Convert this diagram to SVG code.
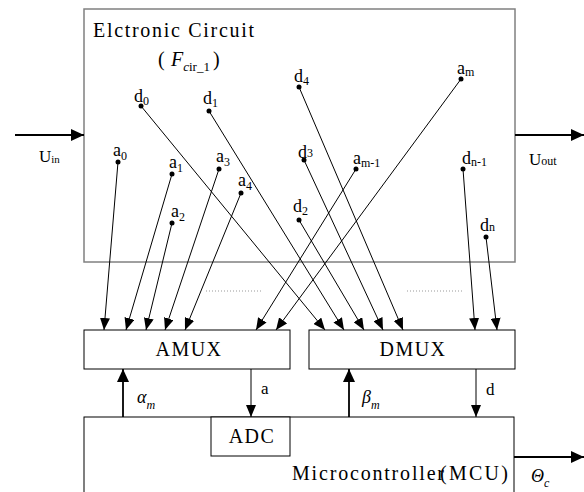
<svg xmlns="http://www.w3.org/2000/svg" width="584" height="492" viewBox="0 0 584 492">
<style>
text{font-family:"Liberation Serif","Times New Roman",serif;fill:#000}
.lbl{font-size:18px}
.sub{font-size:12px}
.big{font-size:20px}
.box{fill:#fff;stroke:#000;stroke-width:1}
.conn{stroke:#000;stroke-width:1;fill:none}
.thick{stroke:#000;stroke-width:1.8;fill:none}
.dot{fill:#000}
.dotted{stroke:#999;stroke-width:1;stroke-dasharray:1,2}
</style>
<defs>
<marker id="ah" viewBox="0 0 12 10" refX="12" refY="5" markerWidth="12" markerHeight="10" markerUnits="userSpaceOnUse" orient="auto"><path d="M0,0 L12,5 L0,10 z" fill="#000"/></marker>
<marker id="ahb" viewBox="0 0 13 12" refX="13" refY="6" markerWidth="13" markerHeight="12" markerUnits="userSpaceOnUse" orient="auto"><path d="M0,0 L13,6 L0,12 z" fill="#000"/></marker>
</defs>

<g id="circuit">
<rect x="84" y="9" width="431" height="253" fill="#fff" stroke="#808080" stroke-width="1.5"/>
<text x="93" y="37" class="big" textLength="161" lengthAdjust="spacing">Elctronic Circuit</text>
<text x="158" y="66" class="big">(<tspan x="171" font-style="italic">F</tspan><tspan font-size="13" y="71" font-style="italic">c</tspan><tspan font-size="13" y="71">ir_1</tspan><tspan x="213" y="66">)</tspan></text>
</g>

<g id="amux">
<rect x="84" y="330" width="206" height="39" class="box"/>
<text x="189" y="356" class="big" text-anchor="middle" letter-spacing="1.5">AMUX</text>
</g>
<g id="dmux">
<rect x="309" y="330" width="206" height="39" class="box"/>
<text x="413" y="356" class="big" text-anchor="middle" letter-spacing="1.5">DMUX</text>
</g>
<g id="mcu">
<rect x="84" y="417" width="430" height="90" class="box"/>
<text x="292" y="480" class="big" textLength="152" lengthAdjust="spacing">Microcontroller</text>
<text x="440" y="480" class="big" textLength="68" lengthAdjust="spacing">(MCU)</text>
</g>
<g id="adc">
<rect x="211" y="417" width="79" height="39" class="box"/>
<text x="252" y="443" class="big" text-anchor="middle" letter-spacing="1.5">ADC</text>
</g>

<g id="points">
<circle cx="118" cy="162" r="2.5" class="dot"/>
<text x="113" y="156" class="lbl">a<tspan class="sub" dy="4">0</tspan></text>
<circle cx="172" cy="174" r="2.5" class="dot"/>
<text x="169" y="168" class="lbl">a<tspan class="sub" dy="4">1</tspan></text>
<circle cx="172" cy="223" r="2.5" class="dot"/>
<text x="171" y="217" class="lbl">a<tspan class="sub" dy="4">2</tspan></text>
<circle cx="219" cy="169" r="2.5" class="dot"/>
<text x="216" y="162" class="lbl">a<tspan class="sub" dy="4">3</tspan></text>
<circle cx="241" cy="193" r="2.5" class="dot"/>
<text x="238" y="186" class="lbl">a<tspan class="sub" dy="4">4</tspan></text>
<circle cx="356" cy="169" r="2.5" class="dot"/>
<text x="353" y="164" class="lbl">a<tspan class="sub" dy="3">m-1</tspan></text>
<circle cx="461" cy="79" r="2.5" class="dot"/>
<text x="457" y="74" class="lbl">a<tspan class="sub" dy="2">m</tspan></text>

<circle cx="141" cy="106" r="2.5" class="dot"/>
<text x="134" y="102" class="lbl">d<tspan class="sub" dy="3">0</tspan></text>
<circle cx="209" cy="111" r="2.5" class="dot"/>
<text x="203" y="104" class="lbl">d<tspan class="sub" dy="3">1</tspan></text>
<circle cx="299" cy="220" r="2.5" class="dot"/>
<text x="293" y="212" class="lbl">d<tspan class="sub" dy="3">2</tspan></text>
<circle cx="304" cy="160" r="2.5" class="dot"/>
<text x="298" y="158" class="lbl">d<tspan class="sub" dy="-1">3</tspan></text>
<circle cx="299" cy="87" r="2.5" class="dot"/>
<text x="294" y="82" class="lbl">d<tspan class="sub" dy="3">4</tspan></text>
<circle cx="463" cy="169" r="2.5" class="dot"/>
<text x="462" y="164" class="lbl">d<tspan class="sub" dy="2">n-1</tspan></text>
<circle cx="486" cy="237" r="2.5" class="dot"/>
<text x="480" y="231" class="lbl">d<tspan class="sub" dy="0">n</tspan></text>
</g>

<g id="connectors">
<line x1="118" y1="162" x2="104" y2="330" class="conn" marker-end="url(#ah)"/>
<line x1="172" y1="174" x2="126" y2="330" class="conn" marker-end="url(#ah)"/>
<line x1="172" y1="223" x2="146" y2="330" class="conn" marker-end="url(#ah)"/>
<line x1="219" y1="169" x2="165" y2="330" class="conn" marker-end="url(#ah)"/>
<line x1="241" y1="193" x2="185" y2="330" class="conn" marker-end="url(#ah)"/>
<line x1="356" y1="169" x2="256" y2="330" class="conn" marker-end="url(#ah)"/>
<line x1="461" y1="79" x2="276" y2="330" class="conn" marker-end="url(#ah)"/>

<line x1="141" y1="106" x2="325" y2="330" class="conn" marker-end="url(#ah)"/>
<line x1="209" y1="111" x2="344" y2="330" class="conn" marker-end="url(#ah)"/>
<line x1="299" y1="220" x2="364" y2="330" class="conn" marker-end="url(#ah)"/>
<line x1="304" y1="160" x2="383" y2="330" class="conn" marker-end="url(#ah)"/>
<line x1="299" y1="87" x2="403" y2="330" class="conn" marker-end="url(#ah)"/>
<line x1="463" y1="169" x2="475" y2="330" class="conn" marker-end="url(#ah)"/>
<line x1="486" y1="237" x2="497" y2="330" class="conn" marker-end="url(#ah)"/>

<line x1="206" y1="291" x2="261" y2="291" class="dotted"/>
<line x1="407" y1="291" x2="462" y2="291" class="dotted"/>

<line x1="15" y1="135" x2="84" y2="135" class="thick" marker-end="url(#ahb)"/>
<text x="39" y="162" font-size="17">U<tspan font-size="11" dy="1">in</tspan></text>
<line x1="515" y1="135" x2="584" y2="135" class="thick" marker-end="url(#ahb)"/>
<text x="529" y="165" font-size="17">U<tspan font-size="12" dy="0">out</tspan></text>

<line x1="123" y1="417" x2="123" y2="369" class="thick" marker-end="url(#ahb)"/>
<text x="137" y="403" font-size="18" font-style="italic">α<tspan font-size="12" dy="6">m</tspan></text>
<line x1="251" y1="369" x2="251" y2="417" class="conn" marker-end="url(#ah)"/>
<text x="261" y="394" font-size="17">a</text>
<line x1="349" y1="417" x2="349" y2="369" class="thick" marker-end="url(#ahb)"/>
<text x="362" y="403" font-size="18" font-style="italic">β<tspan font-size="12" dy="6">m</tspan></text>
<line x1="476" y1="369" x2="476" y2="417" class="conn" marker-end="url(#ah)"/>
<text x="486" y="395" font-size="17">d</text>

<line x1="514" y1="457" x2="584" y2="457" class="thick" marker-end="url(#ahb)"/>
<text x="531" y="482" font-size="18" font-style="italic">Θ<tspan font-size="12" dy="5">c</tspan></text>
</g>
</svg>
